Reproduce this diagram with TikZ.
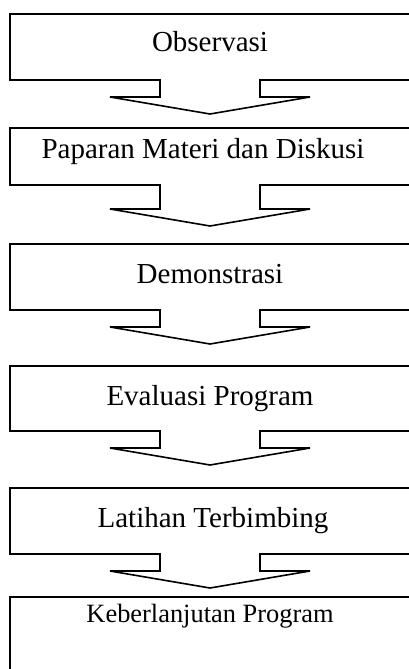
\documentclass[tikz,border=0pt]{standalone}
\usepackage{fontspec}
\setmainfont{Liberation Serif}
\usetikzlibrary{calc}
\tikzset{
  stagebox/.style={draw=none, minimum width=400pt, minimum height=#1, inner sep=0pt, outer sep=0pt, anchor=north west},
  stagetext/.style={font=\fontsize{29}{29}\selectfont, anchor=base, inner sep=0pt},
  smalltext/.style={font=\fontsize{26.4}{26.4}\selectfont, anchor=base, inner sep=0pt},
  callout/.style={draw=black, line width=1.6pt, line join=miter}
}
\newcommand\stagecallout[2][17]{%
  \draw[callout] (#2.south west) -- (#2.north west) -- (#2.north east) -- (#2.south east)
    -- ($(#2.south)+(50,0)$) -- ++(0,#1) -- ++(50,0) -- ($(#2.south)+(0,#1+17)$)
    -- ++(-100,-17) -- ++(50,0) -- ++(0,-#1) -- cycle;}
\begin{document}
\begin{tikzpicture}[x=1pt,y=-1pt]
\useasboundingbox (0,0) rectangle (409,669);
\clip (0,0) rectangle (409,669);
\node[stagebox=66pt] (b1) at (10,14) {};
\node[stagebox=57pt] (b2) at (10,128) {};
\node[stagebox=66pt] (b3) at (10,244) {};
\node[stagebox=65pt] (b4) at (10,366) {};
\node[stagebox=66pt] (b5) at (10,488) {};
\node[stagebox=120pt] (b6) at (10,597) {};
\stagecallout{b1}
\stagecallout[24]{b2}
\stagecallout{b3}
\stagecallout{b4}
\stagecallout{b5}
\draw[callout] (b6.south west) -- (b6.north west) -- (b6.north east) -- (b6.south east);
\node[stagetext] (t1) at (210,52) {Observasi};
\node[stagetext] (t2) at (203,158) {Paparan Materi dan Diskusi};
\node[stagetext] (t3) at (210,283) {Demonstrasi};
\node[stagetext] (t4) at (210,405) {Evaluasi Program};
\node[stagetext] (t5) at (213,527) {Latihan Terbimbing};
\node[smalltext] (t6) at (210,622) {Keberlanjutan Program};
\end{tikzpicture}
\end{document}
